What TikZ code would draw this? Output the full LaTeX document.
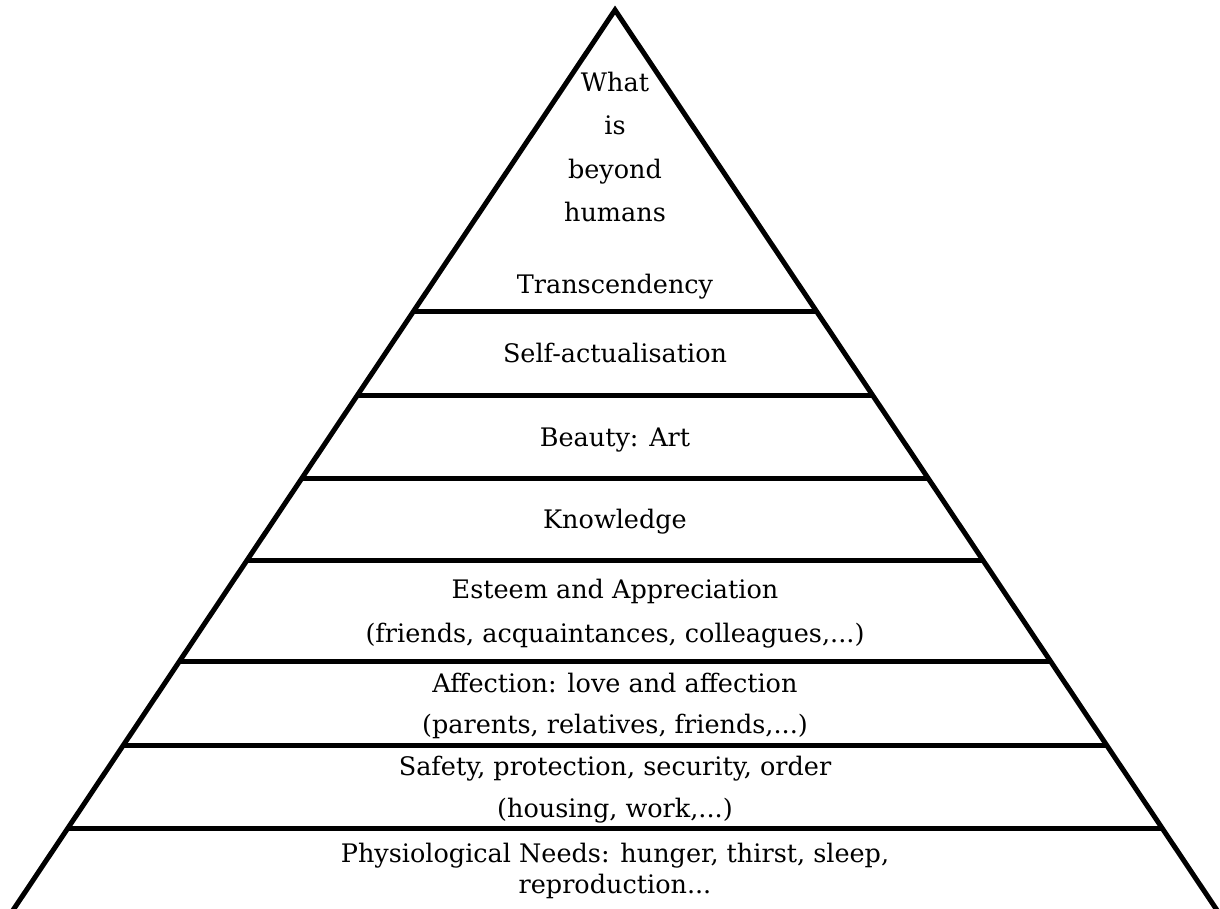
\documentclass[tikz,border=0pt]{standalone}
\usepackage{fontspec}
\setmainfont{DejaVu Serif}
\begin{document}
\begin{tikzpicture}[x=1pt,y=-1pt,
  edge/.style={line width=5pt,line join=miter,black},
  tier/.style={line width=5pt,black},
  lbl/.style={anchor=base,inner sep=0pt,font=\fontsize{25.5}{30}\selectfont}]
\useasboundingbox (0,0) rectangle (1220,908);
\clip (0,0) rectangle (1220,908);
% outline
\coordinate (apex) at (615,10);
\coordinate (bl) at (5.1,922);
\coordinate (br) at (1224.9,922);
\draw[edge] (bl) -- (apex) -- (br);
% tier lines
\foreach \y/\n in {311.5/a,395/b,478/c,560/d,661.5/e,745.5/f,828/g}{
  \pgfmathsetmacro{\dx}{0.6687*(\y-10)}
  \coordinate (L\n) at ({615-\dx},\y);
  \coordinate (R\n) at ({615+\dx},\y);
  \draw[tier] (L\n) -- (R\n);
}
% labels
\node[lbl] (t1) at (615,91) {What};
\node[lbl] (t2) at (615,134) {is};
\node[lbl] (t3) at (615,178) {beyond};
\node[lbl] (t4) at (615,221) {humans};
\node[lbl] (t5) at (615,293) {Transcendency};
\node[lbl] (s1) at (615,362) {Self-actualisation};
\node[lbl] (b1) at (615,446) {Beauty: Art};
\node[lbl] (k1) at (615,528) {Knowledge};
\node[lbl] (e1) at (615,598) {Esteem and Appreciation};
\node[lbl] (e2) at (615,642) {(friends, acquaintances, colleagues,...)};
\node[lbl] (a1) at (615,692) {Affection: love and affection};
\node[lbl] (a2) at (615,733) {(parents, relatives, friends,...)};
\node[lbl] (f1) at (615,775) {Safety, protection, security, order};
\node[lbl] (f2) at (615,817) {(housing, work,...)};
\node[lbl] (p1) at (615,862) {Physiological Needs: hunger, thirst, sleep,};
\node[lbl] (p2) at (615,893) {reproduction...};
\end{tikzpicture}
\end{document}
